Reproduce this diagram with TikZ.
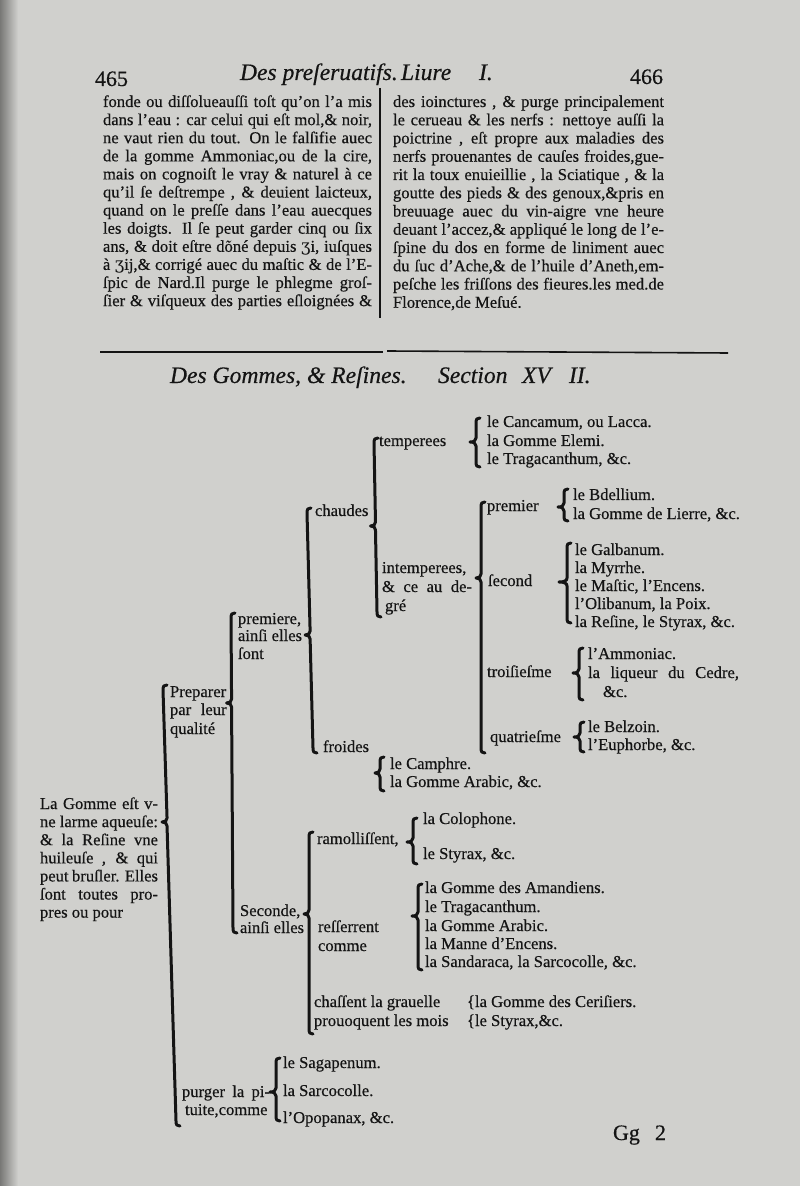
\documentclass[tikz,border=0pt]{standalone}
\usepackage{fontspec}
\setmainfont{Liberation Serif}[FakeBold=0.45]
\newfontfamily\ezhfont{DejaVu Serif}
\newcommand\ezh{{\ezhfont ʒ}}
\definecolor{paper}{RGB}{208,208,205}
\definecolor{edge}{RGB}{120,120,118}
\definecolor{ink}{RGB}{20,20,20}
\tikzset{
  txt/.style={anchor=base west, inner sep=0pt, outer sep=0pt, text=ink, font=\fontsize{8.3}{9.1}\selectfont},
  head/.style={txt, font=\fontsize{11.8}{12}\selectfont\itshape},
  num/.style={txt, font=\fontsize{11}{12}\selectfont},
  brc/.style={draw=ink, line width=1.5pt, line cap=round, line join=round},
  rulel/.style={draw=ink, line width=0.8pt},
}
% #1 tip width, #2 x top, #3 x bottom, #4 y top, #5 y tip, #6 y bottom
\newcommand\TBrace[6][5]{%
  \pgfmathsetmacro\bxm{#2+(#3-#2)*(#5-#4)/(#6-#4)}%
  \draw[brc] ({#2+4},#4) .. controls ({#2+1},#4) and (#2,{#4+1}) .. (#2,{#4+5})
    -- (\bxm,{#5-4}) .. controls (\bxm,{#5-1}) and ({\bxm-#1*0.4},#5) .. ({\bxm-#1},#5)
    .. controls ({\bxm-#1*0.4},#5) and (\bxm,{#5+1}) .. (\bxm,{#5+4})
    -- (#3,{#6-5}) .. controls (#3,{#6-1}) and ({#3+1},#6) .. ({#3+4},#6);
}
\begin{document}
\begin{tikzpicture}[x=0.5pt,y=-0.5pt]
\useasboundingbox (0,0) rectangle (800,1186);
\fill[paper] (0,0) rectangle (800,1186);
\shade[left color=edge, right color=paper] (0,0) rectangle (18,1186);

% running head
\node[num] (p465) at (95,86) {465};
\node[head] (hd1) at (240,80) {Des preſeruatifs.};
\node[head] (hd2) at (401,80) {Liure};
\node[head] (hd3) at (479,80) {I.};
\node[num] (p466) at (630,84) {466};

% left column
\foreach \t [count=\i] in {%
 {fonde ou diſſolueauſſi toſt qu'on l'a mis},
 {dans l'eau : car celui qui eſt mol,\& noir,},
 {ne vaut rien du tout. On le falſifie auec},
 {de la gomme Ammoniac,ou de la cire,},
 {mais on cognoiſt le vray \& naturel à ce},
 {qu'il ſe deſtrempe , \& deuient laicteux,},
 {quand on le preſſe dans l'eau auecques},
 {les doigts. Il ſe peut garder cinq ou ſix},
 {ans, \& doit eſtre dõné depuis \ezh i, iuſques},
 {à \ezh ij,\& corrigé auec du maſtic \& de l'E-},
 {ſpic de Nard.Il purge le phlegme groſ-},
 {ſier \& viſqueux des parties eſloignées \&}}
 \node[txt] (L\i) at (103,{107+(\i-1)*18.1}) {\makebox[134.5pt][s]{\t}};

% right column
\foreach \t [count=\i] in {%
 {des ioinctures , \& purge principalement},
 {le cerueau \& les nerfs : nettoye auſſi la},
 {poictrine , eſt propre aux maladies des},
 {nerfs prouenantes de cauſes froides,gue-},
 {rit la toux enuieillie , la Sciatique , \& la},
 {goutte des pieds \& des genoux,\&pris en},
 {breuuage auec du vin-aigre vne heure},
 {deuant l'accez,\& appliqué le long de l'e-},
 {ſpine du dos en forme de liniment auec},
 {du ſuc d'Ache,\& de l'huile d'Aneth,em-},
 {peſche les friſſons des fieures.les med.de}}
 \node[txt] (R\i) at (393,{107+(\i-1)*18.25}) {\makebox[135.5pt][s]{\t}};
\node[txt] (R12) at (393,{107+11*18.25}) {Florence,de Meſué.};

% rules
\draw[rulel] (380,88) -- (380,318);
\draw[rulel] (100,352) -- (383,352);
\draw[rulel] (387,351) -- (728,353);

% section title
\node[head] (st1) at (170,383) {Des Gommes, \& Reſines.};
\node[head] (st2) at (438,383) {Section};
\node[head] (st3) at (522,383) {XV};
\node[head] (st4) at (569,383) {II.};

% root text
\foreach \t [count=\i] in {{La Gomme eſt v-},{ne larme aqueuſe:},{\& la Reſine vne},{huileuſe , \& qui},{peut bruſler. Elles},{ſont toutes pro-}}
 \node[txt] (root\i) at (40,{809+(\i-1)*18.1}) {\makebox[59pt][s]{\t}};
\node[txt] (root7) at (40,{809+6*18.1}) {pres ou pour};

% level 1
\node[txt] (prep1) at (170,697) {Preparer};
\node[txt] (prep2) at (170,715) {\makebox[28.3pt][s]{par leur}};
\node[txt] (prep3) at (170,734) {qualité};
\node[txt] (purg1) at (182,1097) {\makebox[44pt][s]{purger la pi-}};
\node[txt] (purg2) at (185,1115) {tuite,comme};

% level 2
\node[txt] (prem1) at (238,624) {premiere,};
\node[txt] (prem2) at (238,641) {ainſi elles};
\node[txt] (prem3) at (238,659) {ſont};
\node[txt] (sec1) at (240,916) {Seconde,};
\node[txt] (sec2) at (240,933) {ainſi elles};

% level 3 (premiere)
\node[txt] (chaud) at (315,516) {chaudes};
\node[txt] (froid) at (323,752) {froides};
% level 3 (seconde)
\node[txt] (ramo) at (317,844) {ramolliſſent,};
\node[txt] (ress1) at (318,932) {reſſerrent};
\node[txt] (ress2) at (318,951) {comme};
\node[txt] (chas1) at (314,1007) {chaſſent la grauelle};
\node[txt] (chas2) at (314,1026) {prouoquent les mois};
\node[txt] (cer) at (467,1007) {\{la Gomme des Ceriſiers.};
\node[txt] (sty) at (467,1026) {\{le Styrax,\&c.};

% chaudes
\node[txt] (temp) at (379,446) {temperees};
\node[txt] (intp1) at (382,573) {intemperees,};
\node[txt] (intp2) at (382,592) {\makebox[45pt][s]{\& ce au de-}};
\node[txt] (intp3) at (385,611) {gré};

% temperees list
\node[txt] (t1) at (487,427) {le Cancamum, ou Lacca.};
\node[txt] (t2) at (487,446) {la Gomme Elemi.};
\node[txt] (t3) at (487,464) {le Tragacanthum, \&c.};

% intemperees degrees
\node[txt] (d1) at (487,511) {premier};
\node[txt] (d2) at (488,586) {ſecond};
\node[txt] (d3) at (487,677) {troiſieſme};
\node[txt] (d4) at (490,742) {quatrieſme};

\node[txt] (d1a) at (573,500) {le Bdellium.};
\node[txt] (d1b) at (573,519) {la Gomme de Lierre, \&c.};

\node[txt] (d2a) at (575,555) {le Galbanum.};
\node[txt] (d2b) at (575,573) {la Myrrhe.};
\node[txt] (d2c) at (575,591) {le Maſtic, l'Encens.};
\node[txt] (d2d) at (575,609) {l'Olibanum, la Poix.};
\node[txt] (d2e) at (575,627) {la Reſine, le Styrax, \&c.};

\node[txt] (d3a) at (588,659) {l'Ammoniac.};
\node[txt] (d3b) at (588,678) {\makebox[75.5pt][s]{la liqueur du Cedre,}};
\node[txt] (d3c) at (603,697) {\&c.};

\node[txt] (d4a) at (588,732) {le Belzoin.};
\node[txt] (d4b) at (588,750) {l'Euphorbe, \&c.};

% froides list
\node[txt] (f1) at (390,769) {le Camphre.};
\node[txt] (f2) at (390,787) {la Gomme Arabic, \&c.};

% ramollissent list
\node[txt] (r1) at (423,824) {la Colophone.};
\node[txt] (r2) at (423,859) {le Styrax, \&c.};

% resserrent list
\node[txt] (s1) at (425,893) {la Gomme des Amandiens.};
\node[txt] (s2) at (425,912) {le Tragacanthum.};
\node[txt] (s3) at (425,931) {la Gomme Arabic.};
\node[txt] (s4) at (425,949) {la Manne d'Encens.};
\node[txt] (s5) at (425,967) {la Sandaraca, la Sarcocolle, \&c.};

% purger list
\node[txt] (p1) at (283,1068) {le Sagapenum.};
\node[txt] (p2) at (283,1096) {la Sarcocolle.};
\node[txt] (p3) at (283,1123) {l'Opopanax, \&c.};

% signature
\node[num] (sig) at (613,1140) {Gg};
\node[num] (sig2) at (655,1140) {2};

% braces
\TBrace{163}{176}{685}{822}{1126}
\TBrace{231}{233}{613}{703}{933}
\TBrace{307}{313}{508}{635}{753}
\TBrace{374}{377}{438}{526}{617}
\TBrace[6]{476}{476}{418}{442}{467}
\TBrace{481}{481}{502}{578}{753}
\TBrace[6]{564}{564}{489}{507}{521}
\TBrace[8]{567}{567}{543}{582}{623}
\TBrace[6]{579}{579}{648}{673}{700}
\TBrace[6]{580}{580}{722}{737}{752}
\TBrace{380}{380}{757}{773}{791}
\TBrace{309}{309}{832}{914}{1034}
\TBrace[6]{413}{413}{818}{842}{864}
\TBrace[6]{418}{418}{884}{916}{970}
\TBrace[6]{276}{276}{1058}{1092}{1121}
\end{tikzpicture}
\end{document}
